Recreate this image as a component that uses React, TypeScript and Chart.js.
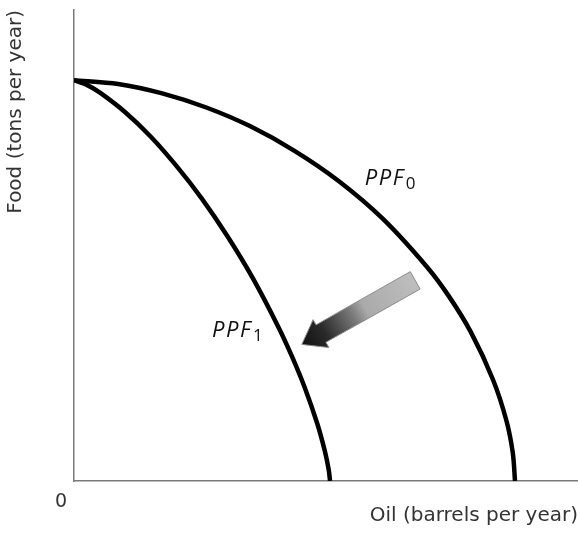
import React, { useEffect, useRef } from 'react';
import { Chart, registerables } from 'chart.js';

Chart.register(...registerables);

// PPF0 (original frontier)
const ppf0X = [0, 8.75, 17.5, 26.25, 35, 43.75, 52.5, 61.25, 70, 74.4, 78.75, 83.1, 85.75, 87.06, 87.5];
const ppf0Y = [85.1, 84.3, 82.3, 79.3, 75.3, 70.1, 63.7, 55.7, 45.5, 39.2, 31.6, 21.6, 13.0, 6.0, 0];
// PPF1 (shifted frontier)
const ppf1X = [0, 2.54, 5.08, 10.16, 15.24, 20.32, 25.4, 30.48, 35.56, 40.64, 43.18, 45.72, 48.26, 49.78, 50.55, 50.8];
const ppf1Y = [85.1, 84.1, 82.5, 78.3, 73.1, 66.9, 59.9, 51.9, 42.9, 32.5, 26.6, 20.0, 12.2, 6.3, 2.3, 0];

const curveNames = ['PPF', 'PPF'];
const curveSubs = ['0', '1'];
const labelX = [57.7, 27.4];
const labelY = [62.8, 30.6];

// arrow from (tail) to (tip), in data units
const arrowFrom = [67.7, 42.6];
const arrowTo = [45.2, 29.0];

const xTitle = 'Oil (barrels per year)';
const yTitle = 'Food (tons per year)';
const originLabel = ['0'];

const toPoints = (xs: number[], ys: number[]) => xs.map((x, i) => ({ x, y: ys[i] }));

const overlayPlugin = {
  id: 'overlay',
  afterDatasetsDraw(chart: any) {
    const { ctx, scales } = chart;
    const xs = scales.x;
    const ys = scales.y;
    ctx.save();

    // arrow
    const tx = xs.getPixelForValue(arrowFrom[0]);
    const ty = ys.getPixelForValue(arrowFrom[1]);
    const hx = xs.getPixelForValue(arrowTo[0]);
    const hy = ys.getPixelForValue(arrowTo[1]);
    const dx = hx - tx;
    const dy = hy - ty;
    const len = Math.hypot(dx, dy);
    const ux = dx / len;
    const uy = dy / len;
    const nx = -uy;
    const ny = ux;
    const sw = 10;
    const hw = 16;
    const hl = 22;
    const bx = hx - ux * hl;
    const by = hy - uy * hl;
    ctx.beginPath();
    ctx.moveTo(tx + nx * sw, ty + ny * sw);
    ctx.lineTo(bx + nx * sw, by + ny * sw);
    ctx.lineTo(bx + nx * hw, by + ny * hw);
    ctx.lineTo(hx, hy);
    ctx.lineTo(bx - nx * hw, by - ny * hw);
    ctx.lineTo(bx - nx * sw, by - ny * sw);
    ctx.lineTo(tx - nx * sw, ty - ny * sw);
    ctx.closePath();
    const g = ctx.createLinearGradient(hx, hy, tx, ty);
    g.addColorStop(0, '#111111');
    g.addColorStop(0.2, '#2a2a2a');
    g.addColorStop(0.45, '#7a7a7a');
    g.addColorStop(0.56, '#aaaaaa');
    g.addColorStop(1, '#bebebe');
    ctx.fillStyle = g;
    ctx.fill();
    ctx.strokeStyle = '#8a8a8a';
    ctx.lineWidth = 1;
    ctx.stroke();

    // curve labels
    ctx.fillStyle = '#111';
    ctx.textBaseline = 'alphabetic';
    ctx.textAlign = 'left';
    for (let i = 0; i < curveNames.length; i++) {
      const px = xs.getPixelForValue(labelX[i]);
      const py = ys.getPixelForValue(labelY[i]);
      ctx.font = 'italic 22px "Open Sans"';
      (ctx as any).letterSpacing = '1.5px';
      ctx.fillText(curveNames[i], px, py);
      const w = ctx.measureText(curveNames[i]).width;
      ctx.font = '17px "Open Sans"';
      (ctx as any).letterSpacing = '0px';
      ctx.fillText(curveSubs[i], px + w + 1, py + 4);
    }

    // origin label
    ctx.font = '19px "DejaVu Sans"';
    ctx.textAlign = 'center';
    ctx.textBaseline = 'middle';
    ctx.fillStyle = '#333';
    ctx.fillText(originLabel[0], xs.getPixelForValue(0) - 13, ys.getPixelForValue(0) + 21);
    ctx.restore();
  },
};

export default function App() {
  const ref = useRef<HTMLCanvasElement | null>(null);
  useEffect(() => {
    if (!ref.current) return;
    const chart = new Chart(ref.current, {
      type: 'line',
      data: {
        datasets: [
          {
            label: 'PPF0',
            data: toPoints(ppf0X, ppf0Y),
            borderColor: '#000',
            borderWidth: 4.5,
            pointRadius: 0,
            tension: 0.3,
            fill: false,
          },
          {
            label: 'PPF1',
            data: toPoints(ppf1X, ppf1Y),
            borderColor: '#000',
            borderWidth: 4.5,
            pointRadius: 0,
            tension: 0.3,
            fill: false,
          },
        ],
      },
      options: {
        responsive: false,
        animation: false,
        devicePixelRatio: 1,
        layout: { padding: { top: 10, left: 0, right: 0, bottom: 0 }, autoPadding: false },
        plugins: { legend: { display: false }, tooltip: { enabled: false } },
        scales: {
          x: {
            type: 'linear',
            min: 0,
            max: 100,
            grid: { display: false, drawTicks: false },
            ticks: { display: false },
            border: { display: true, color: '#7a7a7a', width: 1.5 },
            title: {
              display: true,
              text: xTitle,
              align: 'end',
              color: '#333',
              font: { family: '"DejaVu Sans"', size: 20, weight: 'normal' },
              padding: { top: 23, bottom: 5 },
            },
          },
          y: {
            type: 'linear',
            min: 0,
            max: 100,
            grid: { display: false, drawTicks: false },
            ticks: { display: false },
            border: { display: true, color: '#7a7a7a', width: 1.5 },
            title: {
              display: true,
              text: yTitle,
              align: 'end',
              color: '#333',
              font: { family: '"DejaVu Sans"', size: 20, weight: 'normal' },
              padding: { top: 4, bottom: 46 },
            },
          },
        },
      },
      plugins: [overlayPlugin],
    } as any);
    return () => chart.destroy();
  }, []);
  return (
    <div style={{ position: 'absolute', left: 0, top: 0, width: 578, height: 533, background: '#fff' }}>
      <canvas ref={ref} width={578} height={533} />
    </div>
  );
}
